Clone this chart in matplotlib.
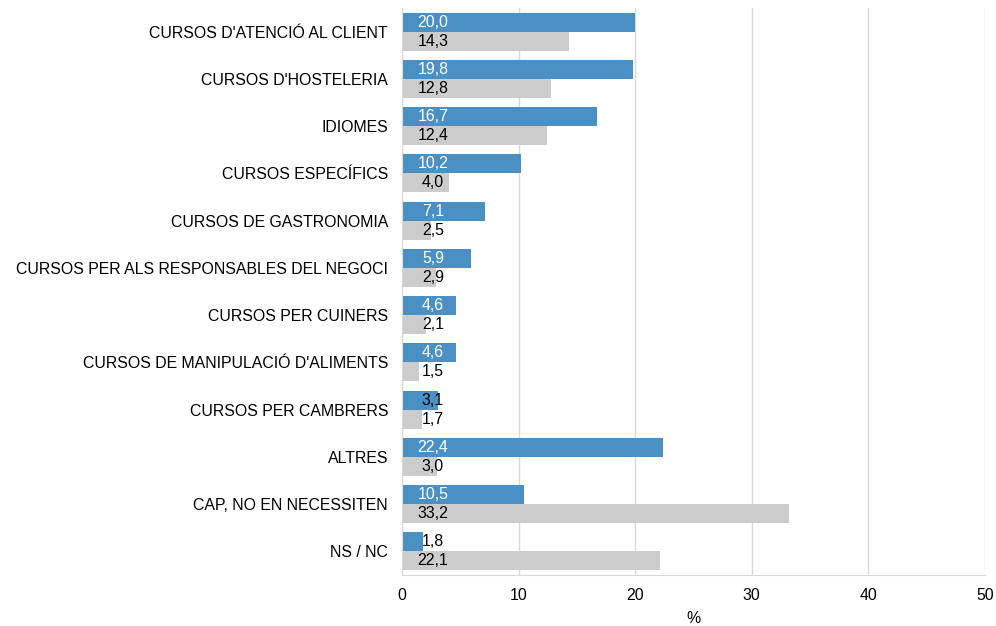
import matplotlib
matplotlib.use("Agg")
import matplotlib.pyplot as plt
import numpy as np

categories = ["CURSOS D'ATENCIÓ AL CLIENT", "CURSOS D'HOSTELERIA", "IDIOMES",
              "CURSOS ESPECÍFICS", "CURSOS DE GASTRONOMIA",
              "CURSOS PER ALS RESPONSABLES DEL NEGOCI", "CURSOS PER CUINERS",
              "CURSOS DE MANIPULACIÓ D'ALIMENTS", "CURSOS PER CAMBRERS",
              "ALTRES", "CAP, NO EN NECESSITEN", "NS / NC"]
series_blue = [20.0, 19.8, 16.7, 10.2, 7.1, 5.9, 4.6, 4.6, 3.1, 22.4, 10.5, 1.8]
series_gray = [14.3, 12.8, 12.4, 4.0, 2.5, 2.9, 2.1, 1.5, 1.7, 3.0, 33.2, 22.1]
xticks = [0, 10, 20, 30, 40, 50]

plt.rcParams['font.family'] = ['Liberation Sans', 'DejaVu Sans']
FS = 11.45

fig = plt.figure(figsize=(9.96, 6.26), dpi=100)
ax = fig.add_axes([402/996, 51/626, 583/996, 567/626])

n = len(categories)
y = np.arange(n)
h = 0.4
blue = '#4a90c4'
gray = '#cccccc'

ax.barh(y - h/2, series_blue, height=h, color=blue, zorder=2)
ax.barh(y + h/2, series_gray, height=h, color=gray, zorder=2)

def fmt(v):
    return f"{v:.1f}".replace('.', ',')

for i in range(n):
    vb = series_blue[i]
    ax.text(2.65, y[i] - h/2, fmt(vb), ha='center', va='center', fontsize=FS,
            color='white' if vb >= 4 else 'black', zorder=3)
    ax.text(2.65, y[i] + h/2, fmt(series_gray[i]), ha='center', va='center',
            fontsize=FS, color='black', zorder=3)

ax.set_ylim(n - 0.5, -0.5)
ax.set_xlim(0, 50)
ax.set_yticks(y)
ax.set_yticklabels(categories, fontsize=FS)
ax.set_xticks(xticks)
ax.set_xticklabels([str(t) for t in xticks], fontsize=FS)
ax.set_xlabel('%', fontsize=FS, labelpad=6)
ax.tick_params(axis='y', length=0, pad=10)
ax.tick_params(axis='x', length=0, pad=9)
ax.xaxis.grid(True, color='#d9d9d9', linewidth=1, zorder=0)
for s in ['top', 'right']:
    ax.spines[s].set_visible(False)
for s in ['left', 'bottom']:
    ax.spines[s].set_color('#d9d9d9')

fig.savefig('out.png', dpi=100)
